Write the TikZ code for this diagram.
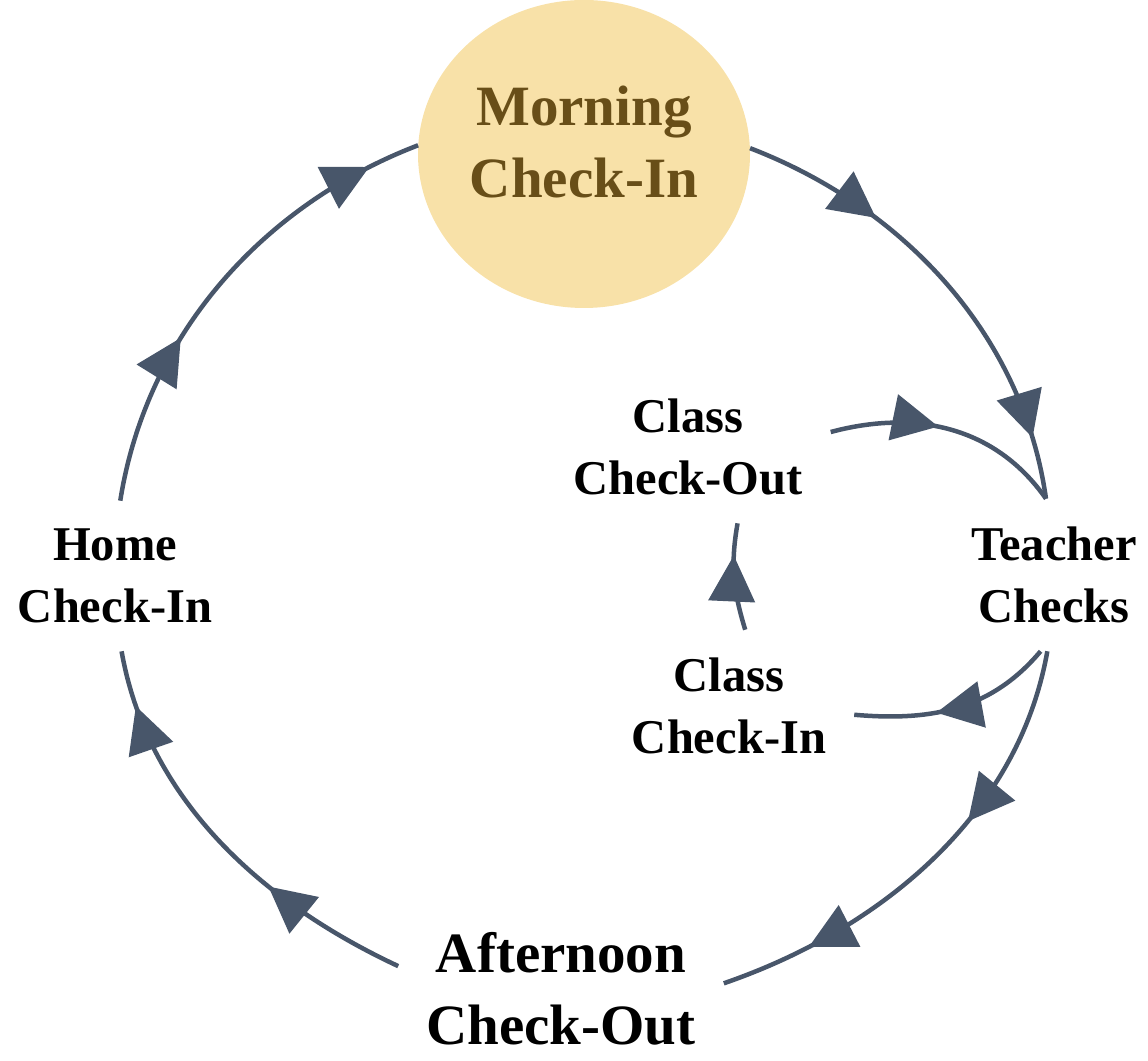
\documentclass[tikz,border=0pt]{standalone}
\usepackage{fontspec}
\setmainfont{Liberation Serif}
\usetikzlibrary{arrows.meta,decorations.markings,shapes.geometric}
\definecolor{edgecol}{RGB}{72,86,106}
\definecolor{morningfill}{RGB}{248,225,168}
\definecolor{morningtext}{RGB}{104,78,24}
\newcommand*{\bigtext}{\fontsize{57}{72}\selectfont\bfseries}
\newcommand*{\smalltext}{\fontsize{48.5}{62}\selectfont\bfseries}
\newcommand*{\headtip}{\arrow{Triangle[length=46pt,width=46pt]}}

\begin{document}
\begin{tikzpicture}[x=1pt, y=1pt,
    stage/.style={align=center, inner sep=28pt, font=\smalltext},
    link/.style={color=edgecol, line width=4.5pt, draw, postaction=decorate},
    twoheads/.style 2 args={link, looseness=0.92, decoration={markings,
        mark=at position #1 with {\headtip},
        mark=at position #2 with {\headtip}}},
    onehead/.style={link, decoration={markings,
        mark=at position #1 with {\headtip}}}]
  \useasboundingbox (0,0) rectangle (1148,1060);

  \node (morning) [ellipse, fill=morningfill, text=morningtext, font=\bigtext,
    align=center, minimum width=332pt, minimum height=308pt, inner sep=2pt,
    text depth=24pt] at (584,906) {Morning\\Check-In};
  \node (teacher) [stage] at (1054,485) {Teacher\\Checks};
  \node (afternoon) [stage, font=\bigtext, inner ysep=8pt] at (561,71) {Afternoon\\Check-Out};
  \node (home) [stage] at (115,484) {Home\\Check-In};
  \node (classout) [stage] at (688,613) {Class\\Check-Out};
  \node (classin) [stage] at (729,354) {Class\\Check-In};

  % outer loop
  \draw [twoheads={0.30}{0.87}] (morning.2) to[out=-21, in=98] (teacher.96);
  \draw [twoheads={0.39}{0.81}] (teacher.-95) to[out=-100, in=19] (afternoon.2);
  \draw [twoheads={0.35}{0.87}] (afternoon.172) to[out=155, in=-80] (home.-85);
  \draw [twoheads={0.36}{0.89}] (home.86) to[out=81, in=201] (morning.177);

  % inner loop
  \draw [onehead=0.45] (classout.6) to[out=15, in=125] (teacher.96);
  \draw [onehead=0.6] (teacher.-100) to[out=-130, in=-5] (classin.-4);
  \draw [onehead=0.7] (classin.78) to[out=107, in=-100] (classout.-57);
\end{tikzpicture}
\end{document}
